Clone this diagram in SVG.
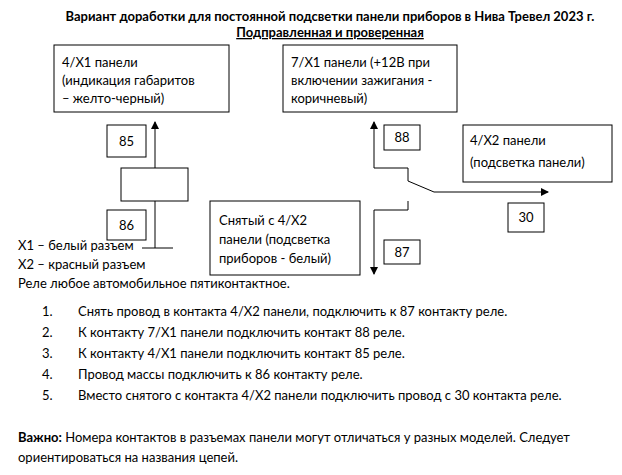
<svg xmlns="http://www.w3.org/2000/svg" width="622" height="475" viewBox="0 0 622 475">
<style>
text{font-family:Lato,"Open Sans",sans-serif;font-size:13px;fill:#000}
.b{font-weight:bold}
rect{fill:#fff;stroke:#000;stroke-width:1}
line,polyline{stroke:#000;stroke-width:1;fill:none}
</style>
<defs><marker id="a" markerWidth="8" markerHeight="8" refX="7" refY="4" orient="auto" markerUnits="userSpaceOnUse"><path d="M0,0 L8,4 L0,8 z" fill="#000"/></marker></defs>
<rect x="0" y="0" width="622" height="475" style="stroke:none"/>
<text class="b" x="330" y="21" text-anchor="middle">Вариант доработки для постоянной подсветки панели приборов в Нива Тревел 2023 г.</text>
<text class="b" x="330" y="37" text-anchor="middle" text-decoration="underline">Подправленная и проверенная</text>
<g id="n1"><rect x="54" y="45" width="175" height="67"/><text x="62" y="67">4/X1 панели</text><text x="62" y="85">(индикация  габаритов</text><text x="62" y="103">– желто-черный)</text></g>
<g id="n2"><rect x="283" y="45" width="174" height="67"/><text x="291" y="67">7/X1 панели (+12В при</text><text x="291" y="85">включении зажигания -</text><text x="291" y="103">коричневый)</text></g>
<g id="n3"><rect x="463" y="125" width="149" height="57"/><text x="470" y="145">4/X2 панели</text><text x="470" y="167">(подсветка панели)</text></g>
<g id="n4"><rect x="210" y="201" width="150" height="74"/><text x="219" y="225">Снятый с 4/X2</text><text x="219" y="244">панели (подсветка</text><text x="219" y="263">приборов - белый)</text></g>
<g id="relay"><rect x="121" y="168" width="67" height="33"/></g>
<g id="p85"><rect x="107" y="125" width="39" height="32"/><text x="126.5" y="146" text-anchor="middle">85</text></g>
<g id="p86"><rect x="107" y="210" width="39" height="30"/><text x="126.5" y="230" text-anchor="middle">86</text></g>
<g id="p88"><rect x="384" y="125" width="36" height="25"/><text x="402" y="142" text-anchor="middle">88</text></g>
<g id="p30"><rect x="508" y="203" width="36" height="29"/><text x="526" y="222" text-anchor="middle">30</text></g>
<g id="p87"><rect x="384" y="240" width="36" height="24"/><text x="402" y="257" text-anchor="middle">87</text></g>
<g id="connectors">
<line x1="155" y1="168" x2="155" y2="122" marker-end="url(#a)"/>
<polyline points="155,201 155,248"/>
<line x1="142" y1="248" x2="173" y2="248"/>
<polyline points="408,181 408,168 374,168 374,122" marker-end="url(#a)"/>
<polyline points="408,181 434,192 548,192" marker-end="url(#a)"/>
<polyline points="408,201 408,210 374,210 374,274" marker-end="url(#a)"/>
</g>
<text x="18" y="250">X1 – белый разъем</text>
<text x="18" y="269">X2 – красный разъем</text>
<text x="18" y="288">Реле любое автомобильное пятиконтактное.</text>
<text x="42" y="316">1.</text><text x="78" y="316">Снять провод в контакта 4/X2 панели, подключить к 87 контакту реле.</text>
<text x="42" y="337">2.</text><text x="78" y="337">К контакту 7/X1 панели подключить контакт 88 реле.</text>
<text x="42" y="358">3.</text><text x="78" y="358">К контакту 4/X1 панели подключить контакт 85 реле.</text>
<text x="42" y="379">4.</text><text x="78" y="379">Провод массы подключить к 86 контакту реле.</text>
<text x="42" y="400">5.</text><text x="78" y="400">Вместо снятого с контакта 4/X2 панели подключить провод с 30 контакта реле.</text>
<text x="18" y="442"><tspan class="b">Важно:</tspan> Номера контактов в разъемах панели могут отличаться у разных моделей. Следует</text>
<text x="18" y="462">ориентироваться на названия цепей.</text>
</svg>
